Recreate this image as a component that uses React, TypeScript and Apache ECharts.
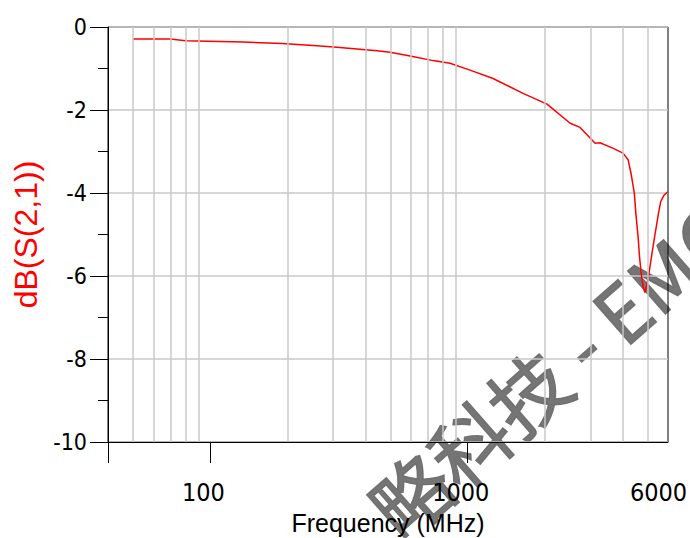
import React, { useEffect, useRef } from 'react';
import * as echarts from 'echarts';

// Frequency (MHz) and dB(S(2,1))
const freqMHz = [
  50, 70, 80, 134, 190, 259, 310, 371, 444, 499, 597, 733, 853, 1021, 1254,
  1640, 2033, 2500, 2731, 3126, 3267, 3660, 4010, 4200, 4310, 4440, 4500,
  4590, 4650, 4720, 4800, 4880, 4950, 5060, 5200, 5350, 5510, 5620, 5790, 6000,
];
const s21dB = [
  -0.29, -0.29, -0.33, -0.36, -0.4, -0.45, -0.49, -0.53, -0.57, -0.61, -0.7,
  -0.81, -0.875, -1.04, -1.24, -1.6, -1.86, -2.32, -2.42, -2.8, -2.79, -2.92,
  -3.04, -3.2, -3.53, -4.01, -4.49, -5.05, -5.53, -5.94, -6.26, -6.4, -6.26,
  -5.94, -5.45, -4.97, -4.49, -4.21, -4.05, -3.97,
];

const xGridValues = [50, 60, 70, 80, 90, 200, 300, 400, 500, 600, 700, 800, 900, 2000, 3000, 4000, 5000];
const xTickValues = [40, 100, 1000];
const xLabelValues = [100, 1000, 6000];

const xMin = 40;
const xMax = 6000;
const yMin = -10;
const yMax = 0;
const yInterval = 2;

const watermarkText = '略科技 - EMC';

export default function App() {
  const ref = useRef<HTMLDivElement>(null);

  useEffect(() => {
    if (!ref.current) return;
    const chart = echarts.init(ref.current, undefined, { renderer: 'svg' });
    const labelFont = "'DejaVu Sans Condensed', 'Liberation Sans', sans-serif";
    chart.setOption({
      animation: false,
      backgroundColor: '#ffffff',
      grid: {
        left: 108,
        right: 22,
        top: 27,
        bottom: 96,
        show: true,
        borderColor: '#000000',
        borderWidth: 1,
        backgroundColor: 'transparent',
        outerBoundsMode: 'none',
        containLabel: false,
      },
      xAxis: {
        type: 'log',
        logBase: 10,
        min: xMin,
        max: xMax,
        axisLine: { show: true, onZero: false, lineStyle: { color: '#000000', width: 1 } },
        axisTick: {
          show: true,
          customValues: xTickValues,
          length: 21,
          lineStyle: { color: '#000000', width: 1 },
        },
        axisLabel: {
          customValues: xLabelValues,
          formatter: (v: number) => {
            const s = String(Math.round(v));
            return Math.round(v) === xMax ? '{e|' + s + '}' : s;
          },
          rich: {
            e: { fontSize: 25, fontFamily: labelFont, color: '#000000', padding: [0, 5, 0, 0] },
          },
          fontSize: 25,
          fontFamily: labelFont,
          color: '#000000',
          margin: 38,
          padding: [0, 14, 0, 0],
        },
        splitLine: { show: false },
        minorTick: { show: false },
        name: 'Frequency (MHz)',
        nameLocation: 'middle',
        nameGap: 68,
        nameTextStyle: { fontSize: 25, fontFamily: "'Liberation Sans', Arial, sans-serif", color: '#000000' },
      },
      yAxis: {
        type: 'value',
        min: yMin,
        max: yMax,
        interval: yInterval,
        axisLine: { show: true, lineStyle: { color: '#000000', width: 1 } },
        axisTick: { show: true, length: 18, lineStyle: { color: '#000000', width: 1 } },
        minorTick: { show: true, splitNumber: 2, length: 10, lineStyle: { color: '#000000', width: 1 } },
        splitLine: { show: true, lineStyle: { color: '#c8c8c8', width: 1.5 } },
        axisLabel: { fontSize: 23, fontFamily: labelFont, color: '#000000', margin: 21 },
        name: 'dB(S(2,1))',
        nameLocation: 'middle',
        nameGap: 62,
        nameTextStyle: { fontSize: 32, fontFamily: "'Liberation Sans', Arial, sans-serif", color: '#ff0000' },
      },
      series: [
        {
          type: 'line',
          data: [],
          z: 1,
          silent: true,
          markLine: {
            silent: true,
            symbol: ['none', 'none'],
            label: { show: false },
            lineStyle: { color: '#c8c8c8', type: 'solid', width: 1.5 },
            emphasis: { disabled: true },
            data: xGridValues.map((v) => ({ xAxis: v })),
          },
        },
        {
          type: 'line',
          z: 3,
          data: freqMHz.map((f, i) => [f, s21dB[i]]),
          showSymbol: false,
          symbol: 'none',
          lineStyle: { color: '#ff0000', width: 1.5 },
          itemStyle: { color: '#ff0000' },
          emphasis: { disabled: true },
          silent: true,
        },
      ],
      graphic: {
        z: -1,
        elements: [
          {
            type: 'text',
            x: 380,
            y: 519,
            rotation: 0.72,
            z: -1,
            silent: true,
            style: {
              text: watermarkText,
              fontSize: 78,
              fontFamily: "'Noto Sans CJK SC', sans-serif",
              fill: '#6e6e6e',
              stroke: '#6e6e6e',
              lineWidth: 1.5,
              opacity: 0.95,
              textAlign: 'left',
              textVerticalAlign: 'middle',
            },
          },
        ],
      },
    });
    return () => chart.dispose();
  }, []);

  return (
    <div
      ref={ref}
      style={{ position: 'fixed', left: 0, top: 0, width: 690, height: 538, background: '#fff' }}
    />
  );
}
